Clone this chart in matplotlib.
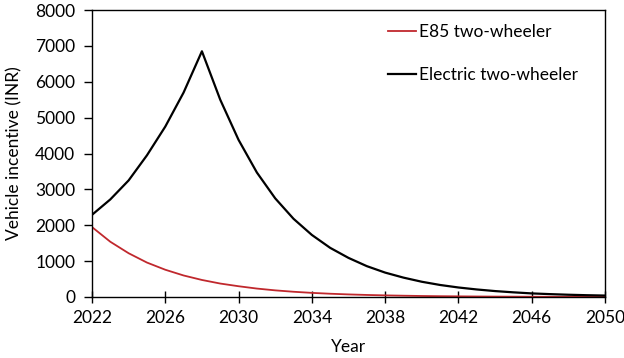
import matplotlib.pyplot as plt

plt.rcParams["font.family"] = ["Lato", "DejaVu Sans"]

years = list(range(2022, 2051))

# E85 two-wheeler incentive (INR)
e85 = [1950, 1540, 1220, 960, 760, 600, 475, 375, 300, 235, 185, 146, 115,
       91, 72, 57, 45, 36, 28, 22, 18, 14, 11, 9, 7, 5, 4, 3, 3]

# Electric two-wheeler incentive (INR)
electric = [2290, 2720, 3250, 3950, 4750, 5700, 6850, 5500, 4380, 3470,
            2750, 2180, 1730, 1370, 1090, 860, 680, 540, 425, 335, 265,
            210, 165, 130, 100, 80, 63, 50, 40]

fig = plt.figure(figsize=(6.24, 3.58), dpi=100)
ax = fig.add_axes([0.1474, 0.1704, 0.8222, 0.8016])

ax.plot(years, e85, color="#C0282D", lw=1.3, label="E85 two-wheeler")
ax.plot(years, electric, color="black", lw=1.6, label="Electric two-wheeler")

ax.set_xlim(2022, 2050)
ax.set_ylim(0, 8000)
ax.set_xticks(range(2022, 2051, 4))
ax.set_yticks(range(0, 8001, 1000))
ax.tick_params(axis="x", direction="inout", length=9, width=1, labelsize=12.5, pad=5)
ax.tick_params(axis="y", direction="out", length=6, width=1, labelsize=12.5, pad=6)
for s in ax.spines.values():
    s.set_linewidth(1)

ax.set_xlabel("Year", fontsize=12.5, labelpad=9)
ax.set_ylabel("Vehicle incentive (INR)", fontsize=12.5, labelpad=9)

ax.legend(loc="upper left", bbox_to_anchor=(0.577, 0.95), frameon=False, fontsize=12.5,
          borderpad=0, borderaxespad=0,
          handlelength=1.6, handletextpad=0.2, labelspacing=1.55)

fig.savefig("out.png", dpi=100)
